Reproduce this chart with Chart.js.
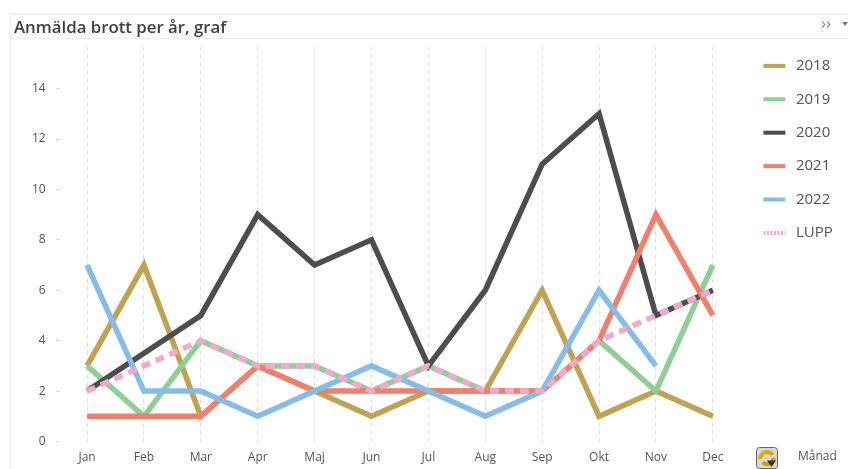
<!DOCTYPE html>
<html>
<head>
<meta charset="utf-8">
<script src="https://cdn.jsdelivr.net/npm/chart.js@4"></script>
<style>
  html, body { margin: 0; padding: 0; background: #fff; overflow: hidden; }
  #wrap { position: relative; width: 848px; height: 469px; font-family: "Open Sans", sans-serif; }
  #chart { position: absolute; left: 0; top: 0; }
  .rule { position: absolute; background: #f0f0f0; }
  #title { position: absolute; left: 14px; top: 15px; font-size: 16.8px; font-weight: 600; color: #404040; white-space: nowrap; }
  #more { position: absolute; left: 821px; top: 11px; font-size: 17px; color: #888; }
  #arrow { position: absolute; left: 842px; top: 22px; width: 0; height: 0; border: 3px solid transparent; border-top: 4px solid #777; }
  #unit { position: absolute; left: 798px; top: 447px; font-size: 12px; color: #555; }
  #icon { position: absolute; left: 756px; top: 447px; }
</style>
</head>
<body>
<div id="wrap">
  <canvas id="chart" width="848" height="469"></canvas>
  <div class="rule" style="left:10px;top:13px;width:838px;height:2px"></div>
  <div class="rule" style="left:10px;top:38px;width:838px;height:1px"></div>
  <div class="rule" style="left:10px;top:14px;width:1px;height:455px"></div>
  <div id="title">Anmälda brott per år, graf</div>
  <div id="more">››</div>
  <div id="arrow"></div>
  <div id="unit">Månad</div>
  <svg id="icon" width="22" height="22" viewBox="0 0 22 22">
    <rect x="0.5" y="0.5" width="21" height="21" rx="3" fill="#d8d8d8" stroke="#666"/>
    <path d="M4.5 12 A6.5 6 0 0 1 16.5 8" fill="none" stroke="#e0a800" stroke-width="4"/>
    <path d="M17.5 11 A6.5 5.5 0 0 1 6.5 15.5" fill="none" stroke="#d19a00" stroke-width="4"/>
    <path d="M11 13.5 L20 13.5 L15.5 20 Z" fill="#3d3310"/>
  </svg>
</div>
<script>
const months = ['Jan', 'Feb', 'Mar', 'Apr', 'Maj', 'Jun', 'Jul', 'Aug', 'Sep', 'Okt', 'Nov', 'Dec'];
const yTicks = [0, 2, 4, 6, 8, 10, 12, 14];

const y2018 = [3, 7, 1, 3, 2, 1, 2, 2, 6, 1, 2, 1];
const y2019 = [3, 1, 4, 3, 3, 2, 3, 2, 2, 4, 2, 7];
const y2020 = [2, 3.5, 5, 9, 7, 8, 3, 6, 11, 13, 5, 6];
const y2021 = [1, 1, 1, 3, 2, 2, 2, 2, 2, 4, 9, 5];
const y2022 = [7, 2, 2, 1, 2, 3, 2, 1, 2, 6, 3, null];
const lupp = [2, 3, 4, 3, 3, 2, 3, 2, 2, 4, 5, 6];

function line(label, data, color, order, dash) {
    return {
        label: label,
        data: data,
        borderColor: color,
        backgroundColor: color,
        borderWidth: 5.5,
        borderDash: dash || [],
        borderCapStyle: 'butt',
        borderJoinStyle: 'miter',
        pointRadius: 0,
        tension: 0,
        order: order
    };
}

// puts the legend where the original has it, the plot area is left alone
const legendPlace = {
    id: 'legendPlace',
    afterLayout(chart) {
        chart.legend.left = 745;
        chart.legend.top = 40;
    }
};

new Chart(document.getElementById('chart').getContext('2d'), {
    type: 'line',
    data: {
        labels: months,
        datasets: [
            line('2018', y2018, '#bfa350', 5),
            line('2019', y2019, '#8ecf96', 4),
            line('2020', y2020, '#4d4d4d', 3),
            line('2021', y2021, '#f47e6c', 2),
            line('2022', y2022, '#84bde9', 1),
            line('LUPP', lupp, '#f5a8cc', 0, [9, 6])
        ]
    },
    plugins: [legendPlace],
    options: {
        responsive: false,
        animation: false,
        layout: { padding: { left: 0, right: 9, top: 47, bottom: 0 } },
        scales: {
            x: {
                offset: true,
                grid: {
                    offset: false,
                    color: '#dedede',
                    lineWidth: 1,
                    tickLength: 0
                },
                border: { display: false, dash: [4, 4] },
                ticks: { color: '#555', font: { family: 'Open Sans', size: 12 }, padding: 9, maxRotation: 0 },
                afterFit(scale) { scale.height = 27.5; }
            },
            y: {
                min: 0,
                max: 15.65,
                afterBuildTicks(scale) { scale.ticks = yTicks.map(v => ({ value: v })); },
                grid: { drawOnChartArea: false, tickLength: 2, color: '#c8c8c8' },
                border: { display: false },
                ticks: { color: '#555', font: { family: 'Open Sans', size: 12 }, padding: 11, autoSkip: false },
                afterFit(scale) { scale.width = 58.6; }
            }
        },
        plugins: {
            tooltip: { enabled: false },
            legend: {
                position: 'right',
                align: 'start',
                labels: {
                    usePointStyle: true,
                    pointStyle: 'line',
                    pointStyleWidth: 25,
                    boxHeight: 15,
                    padding: 18.4,
                    color: '#555',
                    font: { family: 'Open Sans', size: 15 },
                    generateLabels(chart) {
                        return chart.data.datasets.map((d, i) => ({
                            text: d.label,
                            fontColor: '#555',
                            strokeStyle: d.borderColor,
                            fillStyle: d.borderColor,
                            lineWidth: 4,
                            // the swatch is 22px long, the rest of the box only moves the text
                            lineDash: d.label === 'LUPP' ? [2, 1.5, 2, 1.5, 2, 1.5, 2, 1.5, 2, 1.5, 2, 1.5, 1, 10] : [22, 10],
                            pointStyle: 'line',
                            datasetIndex: i
                        }));
                    }
                }
            }
        }
    }
});
</script>
</body>
</html>
